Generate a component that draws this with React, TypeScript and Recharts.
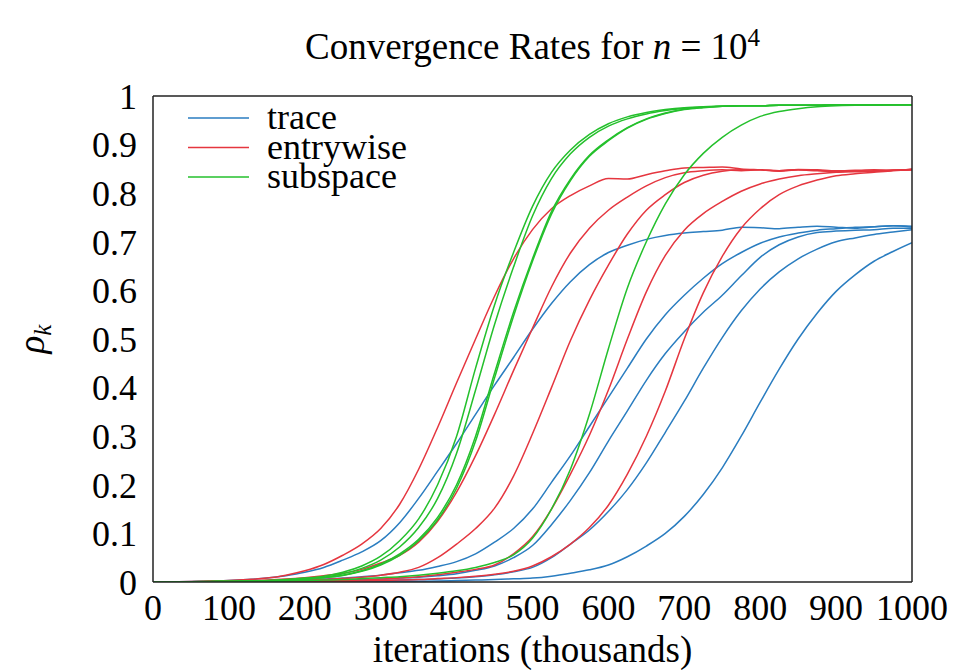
import React from 'react';
import { LineChart, Line, XAxis, YAxis, Legend } from 'recharts';

const xValues = [0, 25, 50, 75, 100, 125, 150, 175, 200, 225, 250, 275, 300, 325, 350, 375, 400, 425, 450, 475, 500, 525, 550, 575, 600, 625, 650, 675, 700, 725, 750, 775, 800, 825, 850, 875, 900, 925, 950, 975, 1000];

const trace1 = [0, 0.0005, 0.001, 0.002, 0.003, 0.005, 0.008, 0.013, 0.02, 0.03, 0.045, 0.062, 0.085, 0.122, 0.172, 0.228, 0.285, 0.345, 0.405, 0.462, 0.52, 0.573, 0.618, 0.653, 0.678, 0.693, 0.705, 0.713, 0.718, 0.721, 0.724, 0.73, 0.729, 0.727, 0.73, 0.732, 0.73, 0.728, 0.731, 0.733, 0.73];
const trace2 = [0, 0.0003, 0.0006, 0.001, 0.001, 0.002, 0.002, 0.003, 0.004, 0.006, 0.008, 0.011, 0.014, 0.019, 0.024, 0.032, 0.042, 0.058, 0.082, 0.11, 0.15, 0.205, 0.26, 0.32, 0.38, 0.44, 0.5, 0.55, 0.59, 0.625, 0.655, 0.678, 0.697, 0.71, 0.718, 0.724, 0.727, 0.73, 0.731, 0.733, 0.732];
const trace3 = [0, 0.0002, 0.0004, 0.0006, 0.0008, 0.001, 0.0013, 0.0016, 0.002, 0.003, 0.004, 0.005, 0.006, 0.008, 0.01, 0.013, 0.017, 0.024, 0.033, 0.05, 0.075, 0.118, 0.168, 0.225, 0.29, 0.352, 0.415, 0.47, 0.515, 0.555, 0.59, 0.63, 0.668, 0.694, 0.71, 0.719, 0.722, 0.724, 0.725, 0.728, 0.728];
const trace4 = [0, 0.0002, 0.0003, 0.0005, 0.0006, 0.0008, 0.001, 0.001, 0.0012, 0.0015, 0.002, 0.0025, 0.003, 0.004, 0.005, 0.006, 0.008, 0.011, 0.015, 0.021, 0.03, 0.05, 0.078, 0.107, 0.145, 0.19, 0.245, 0.308, 0.372, 0.44, 0.503, 0.558, 0.603, 0.638, 0.665, 0.685, 0.7, 0.708, 0.715, 0.72, 0.725];
const trace5 = [0, 0, 0.0001, 0.0001, 0.0002, 0.0002, 0.0003, 0.0003, 0.0004, 0.0005, 0.0006, 0.0008, 0.001, 0.0013, 0.0016, 0.002, 0.003, 0.004, 0.005, 0.0065, 0.008, 0.012, 0.018, 0.025, 0.035, 0.052, 0.074, 0.1, 0.135, 0.18, 0.235, 0.3, 0.37, 0.438, 0.5, 0.553, 0.598, 0.632, 0.66, 0.68, 0.698];

const entry1 = [0, 0.0005, 0.001, 0.002, 0.003, 0.005, 0.008, 0.014, 0.023, 0.036, 0.055, 0.078, 0.11, 0.16, 0.232, 0.318, 0.41, 0.5, 0.588, 0.665, 0.725, 0.768, 0.795, 0.815, 0.83, 0.829, 0.838, 0.846, 0.852, 0.853, 0.854, 0.85, 0.848, 0.846, 0.848, 0.847, 0.843, 0.846, 0.845, 0.847, 0.849];
const entry2 = [0, 0.0003, 0.0006, 0.001, 0.002, 0.003, 0.004, 0.006, 0.009, 0.013, 0.018, 0.026, 0.039, 0.055, 0.082, 0.125, 0.185, 0.26, 0.345, 0.435, 0.522, 0.607, 0.677, 0.728, 0.765, 0.792, 0.815, 0.832, 0.842, 0.846, 0.848, 0.846, 0.848, 0.845, 0.848, 0.846, 0.845, 0.844, 0.846, 0.847, 0.848];
const entry3 = [0, 0.0002, 0.0004, 0.0006, 0.001, 0.0015, 0.002, 0.003, 0.004, 0.005, 0.007, 0.01, 0.014, 0.02, 0.03, 0.05, 0.078, 0.11, 0.152, 0.218, 0.305, 0.4, 0.497, 0.58, 0.652, 0.716, 0.765, 0.797, 0.822, 0.837, 0.845, 0.848, 0.848, 0.846, 0.849, 0.848, 0.846, 0.847, 0.848, 0.847, 0.849];
const entry4 = [0, 0.0001, 0.0002, 0.0004, 0.0006, 0.0008, 0.001, 0.0015, 0.002, 0.0025, 0.003, 0.004, 0.006, 0.008, 0.011, 0.015, 0.02, 0.026, 0.035, 0.058, 0.093, 0.15, 0.222, 0.302, 0.395, 0.5, 0.597, 0.672, 0.724, 0.758, 0.783, 0.804, 0.819, 0.829, 0.836, 0.84, 0.843, 0.845, 0.845, 0.847, 0.848];
const entry5 = [0, 0, 0.0001, 0.0002, 0.0003, 0.0004, 0.0005, 0.0007, 0.001, 0.0013, 0.0016, 0.002, 0.003, 0.004, 0.005, 0.007, 0.009, 0.012, 0.016, 0.022, 0.033, 0.052, 0.078, 0.112, 0.158, 0.222, 0.3, 0.393, 0.5, 0.595, 0.67, 0.728, 0.768, 0.797, 0.815, 0.827, 0.836, 0.84, 0.843, 0.846, 0.85];

const subspace1 = [0, 0.0003, 0.0006, 0.001, 0.0015, 0.002, 0.003, 0.005, 0.008, 0.012, 0.02, 0.033, 0.053, 0.085, 0.13, 0.2, 0.3, 0.44, 0.57, 0.678, 0.773, 0.843, 0.889, 0.921, 0.943, 0.957, 0.966, 0.972, 0.976, 0.978, 0.979, 0.98, 0.98, 0.981, 0.981, 0.981, 0.982, 0.982, 0.982, 0.982, 0.982];
const subspace2 = [0, 0.0003, 0.0005, 0.0008, 0.0012, 0.0017, 0.0025, 0.004, 0.007, 0.01, 0.017, 0.028, 0.045, 0.072, 0.112, 0.172, 0.265, 0.395, 0.53, 0.648, 0.753, 0.83, 0.881, 0.915, 0.938, 0.953, 0.963, 0.97, 0.975, 0.977, 0.979, 0.98, 0.98, 0.981, 0.981, 0.981, 0.982, 0.982, 0.982, 0.982, 0.982];
const subspace3 = [0, 0.0002, 0.0004, 0.0007, 0.001, 0.0015, 0.002, 0.0035, 0.006, 0.009, 0.014, 0.023, 0.037, 0.058, 0.088, 0.133, 0.2, 0.3, 0.43, 0.555, 0.665, 0.762, 0.829, 0.878, 0.91, 0.935, 0.953, 0.965, 0.973, 0.977, 0.979, 0.98, 0.98, 0.981, 0.981, 0.981, 0.982, 0.982, 0.982, 0.982, 0.982];
const subspace4 = [0, 0.0002, 0.0004, 0.0007, 0.001, 0.0014, 0.002, 0.0033, 0.0058, 0.0088, 0.0135, 0.022, 0.035, 0.055, 0.085, 0.128, 0.193, 0.29, 0.42, 0.547, 0.66, 0.757, 0.826, 0.876, 0.908, 0.934, 0.952, 0.964, 0.972, 0.976, 0.979, 0.98, 0.98, 0.981, 0.981, 0.981, 0.982, 0.982, 0.982, 0.982, 0.982];
const subspace5 = [0, 0.0002, 0.0004, 0.0006, 0.001, 0.0013, 0.0017, 0.0022, 0.003, 0.004, 0.005, 0.007, 0.009, 0.011, 0.014, 0.018, 0.023, 0.03, 0.04, 0.056, 0.09, 0.15, 0.232, 0.345, 0.48, 0.605, 0.7, 0.778, 0.838, 0.882, 0.915, 0.94, 0.958, 0.968, 0.974, 0.978, 0.98, 0.981, 0.981, 0.982, 0.982];

const xTicks = [0, 100, 200, 300, 400, 500, 600, 700, 800, 900, 1000];
const yTicks = [0, 0.1, 0.2, 0.3, 0.4, 0.5, 0.6, 0.7, 0.8, 0.9, 1];
const yTickLabels = ['0', '0.1', '0.2', '0.3', '0.4', '0.5', '0.6', '0.7', '0.8', '0.9', '1'];

const legendLabels = ['trace', 'entrywise', 'subspace'];

const BLUE = '#2a7dc0';
const RED = '#e5363f';
const GREEN = '#24c02c';
const groupColors = [BLUE, RED, GREEN];

const seriesList = [
  { key: 'trace1', values: trace1, color: BLUE },
  { key: 'trace2', values: trace2, color: BLUE },
  { key: 'trace3', values: trace3, color: BLUE },
  { key: 'trace4', values: trace4, color: BLUE },
  { key: 'trace5', values: trace5, color: BLUE },
  { key: 'entry1', values: entry1, color: RED },
  { key: 'entry2', values: entry2, color: RED },
  { key: 'entry3', values: entry3, color: RED },
  { key: 'entry4', values: entry4, color: RED },
  { key: 'entry5', values: entry5, color: RED },
  { key: 'subspace1', values: subspace1, color: GREEN },
  { key: 'subspace2', values: subspace2, color: GREEN },
  { key: 'subspace3', values: subspace3, color: GREEN },
  { key: 'subspace4', values: subspace4, color: GREEN },
  { key: 'subspace5', values: subspace5, color: GREEN },
];

const tableData = xValues.map((x, i) => {
  const row: Record<string, number> = { x };
  seriesList.forEach((s) => {
    row[s.key] = s.values[i];
  });
  return row;
});

const FONT = '"Liberation Serif", "Times New Roman", Times, serif';
const tickStyle = { fontFamily: FONT, fontSize: 36, fill: '#000' };
const AXIS = '#222';

const renderLegend = () => (
  <svg width={270} height={110} style={{ display: 'block', overflow: 'visible' }}>
    {legendLabels.map((label, i) => {
      const y = 25 + 29.5 * i;
      return (
        <g key={label}>
          <line x1={5} x2={66} y1={y} y2={y} stroke={groupColors[i]} strokeWidth={1.5} />
          <text x={84} y={y + 11} fontFamily={FONT} fontSize={36} fill="#000">
            {label}
          </text>
        </g>
      );
    })}
  </svg>
);

const XLabel = (props: any) => {
  const vb = props.viewBox || {};
  return (
    <text x={vb.x + vb.width / 2} y={vb.y + 80} textAnchor="middle" fontFamily={FONT} fontSize={37} fill="#000">
      iterations (thousands)
    </text>
  );
};

const YLabel = (props: any) => {
  const vb = props.viewBox || {};
  const cx = vb.x + 36;
  const cy = vb.y + vb.height / 2;
  return (
    <text x={cx} y={cy} transform={`rotate(-90 ${cx} ${cy})`} textAnchor="middle" fontFamily={FONT} fontSize={37} fill="#000">
      <tspan fontStyle="italic">ρ</tspan>
      <tspan fontStyle="italic" fontSize={25} dy={7}>k</tspan>
    </text>
  );
};

export default function App() {
  return (
    <div style={{ position: 'relative', width: 944, height: 662 }}>
      <div
        style={{
          position: 'absolute',
          left: 145,
          width: 759,
          top: 20,
          textAlign: 'center',
          fontFamily: FONT,
          fontSize: 37,
          lineHeight: '37px',
          color: '#000',
          whiteSpace: 'nowrap',
          zIndex: 2,
        }}
      >
        Convergence Rates for <i>n</i>&nbsp;=&nbsp;10<sup style={{ fontSize: 25, lineHeight: 0 }}>4</sup>
      </div>
      <LineChart width={944} height={662} data={tableData} margin={{ top: 88, right: 40, left: 0, bottom: 0 }}>
        <XAxis
          xAxisId="x"
          dataKey="x"
          type="number"
          domain={[0, 1000]}
          ticks={xTicks}
          allowDataOverflow
          height={88}
          tickLine={false}
          tickSize={0}
          tickMargin={12}
          axisLine={{ stroke: AXIS, strokeWidth: 1.5 }}
          tick={tickStyle}
          label={<XLabel />}
        />
        <XAxis
          xAxisId="xb"
          type="number"
          domain={[0, 1000]}
          ticks={xTicks}
          allowDataOverflow
          orientation="bottom"
          mirror
          tick={false}
          tickSize={9}
          axisLine={false}
          tickLine={{ stroke: AXIS, strokeWidth: 1.5 }}
        />
        <XAxis
          xAxisId="xt"
          type="number"
          domain={[0, 1000]}
          ticks={xTicks}
          allowDataOverflow
          orientation="top"
          mirror
          tick={false}
          tickSize={9}
          axisLine={{ stroke: AXIS, strokeWidth: 1.5 }}
          tickLine={{ stroke: AXIS, strokeWidth: 1.5 }}
        />
        <YAxis
          yAxisId="y"
          type="number"
          domain={[0, 1]}
          ticks={yTicks}
          allowDataOverflow
          width={145}
          tickLine={false}
          tickSize={0}
          tickMargin={16}
          axisLine={{ stroke: AXIS, strokeWidth: 1.5 }}
          tick={tickStyle}
          tickFormatter={(v: number) => yTickLabels[yTicks.indexOf(v)] ?? String(v)}
          label={<YLabel />}
        />
        <YAxis
          yAxisId="yl"
          type="number"
          domain={[0, 1]}
          ticks={yTicks}
          allowDataOverflow
          orientation="left"
          mirror
          tick={false}
          tickSize={9}
          axisLine={false}
          tickLine={{ stroke: AXIS, strokeWidth: 1.5 }}
        />
        <YAxis
          yAxisId="yr"
          type="number"
          domain={[0, 1]}
          ticks={yTicks}
          allowDataOverflow
          orientation="right"
          mirror
          tick={false}
          tickSize={9}
          axisLine={{ stroke: AXIS, strokeWidth: 1.5 }}
          tickLine={{ stroke: AXIS, strokeWidth: 1.5 }}
        />
        <Legend
          layout="horizontal"
          verticalAlign="middle"
          align="center"
          content={renderLegend}
          wrapperStyle={{ position: 'absolute', left: 175, top: 85, width: 270, height: 110 }}
        />
        {seriesList.map((s) => (
          <Line
            key={s.key}
            xAxisId="x"
            yAxisId="y"
            dataKey={s.key}
            type="monotone"
            stroke={s.color}
            strokeWidth={1.5}
            dot={false}
            activeDot={false}
            isAnimationActive={false}
          />
        ))}
      </LineChart>
    </div>
  );
}
